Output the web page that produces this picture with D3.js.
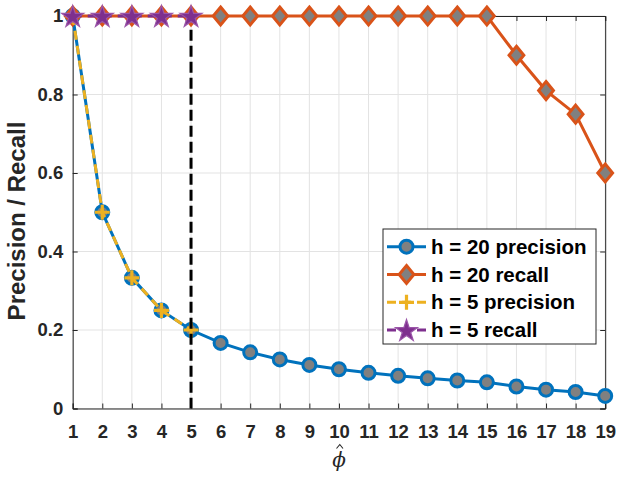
<!DOCTYPE html>
<html><head><meta charset="utf-8">
<script src="https://cdn.jsdelivr.net/npm/d3@7"></script>
<style>body{margin:0;background:#fff}svg{display:block}</style>
</head><body>
<script>
const xs = [1,2,3,4,5,6,7,8,9,10,11,12,13,14,15,16,17,18,19];
const precision20 = [1,0.5,0.333,0.25,0.2,0.167,0.143,0.125,0.111,0.1,0.0909,0.0833,0.0769,0.0714,0.0667,0.056,0.048,0.042,0.032];
const recall20 = [1,1,1,1,1,1,1,1,1,1,1,1,1,1,1,0.9,0.81,0.75,0.6];
const xs5 = [1,2,3,4,5];
const precision5 = [1,0.5,0.333,0.25,0.2];
const recall5 = [1,1,1,1,1];
const yTicks = [0,0.2,0.4,0.6,0.8,1];
const yTickLabels = ["0","0.2","0.4","0.6","0.8","1"];
const legendLabels = ["h = 20 precision","h = 20 recall","h = 5 precision","h = 5 recall"];
const cutoff = 5;

const W=622,H=477;
const L=72.7,R=605.2,T=16,B=408.5;
const svg=d3.select("body").append("svg").attr("width",W).attr("height",H);
const x=d3.scaleLinear().domain([1,19]).range([L,R]);
const y=d3.scaleLinear().domain([0,1]).range([B,T]);
const font="'Liberation Sans', Arial, Helvetica, sans-serif";
const tc="#262626";

// grid
const g=svg.append("g");
g.selectAll(".gx").data(xs).enter().append("line")
 .attr("x1",d=>x(d)).attr("x2",d=>x(d)).attr("y1",T).attr("y2",B)
 .attr("stroke","#e3e3e3").attr("stroke-width",1);
g.selectAll(".gy").data(yTicks).enter().append("line")
 .attr("y1",d=>y(d)).attr("y2",d=>y(d)).attr("x1",L).attr("x2",R)
 .attr("stroke","#e3e3e3").attr("stroke-width",1);

// axes
const xAxis=d3.axisBottom(x).tickValues(xs).tickSize(-5).tickPadding(16).tickFormat(d3.format("d"));
const yAxis=d3.axisLeft(y).tickValues(yTicks).tickSize(-5).tickPadding(9.5).tickFormat((d,i)=>yTickLabels[i]);
const xa=svg.append("g").attr("transform",`translate(0,${B})`).call(xAxis);
const ya=svg.append("g").attr("transform",`translate(${L},0)`).call(yAxis);
const xt=svg.append("g").attr("transform",`translate(0,${T})`).call(d3.axisTop(x).tickValues(xs).tickSize(-5).tickFormat(""));
const yr=svg.append("g").attr("transform",`translate(${R},0)`).call(d3.axisRight(y).tickValues(yTicks).tickSize(-5).tickFormat(""));
[xa,ya,xt,yr].forEach(a=>{
  a.select(".domain").attr("stroke",tc).attr("stroke-width",1);
  a.selectAll(".tick line").attr("stroke",tc);
  a.selectAll("text").attr("fill",tc).attr("font-family",font).attr("font-weight","bold").attr("font-size",18.5);
});

// labels
svg.append("text").attr("transform",`translate(25,221) rotate(-90)`)
 .attr("text-anchor","middle").attr("font-family",font).attr("font-weight","bold")
 .attr("font-size",24).attr("fill",tc).text("Precision / Recall");
svg.append("text").attr("x",339).attr("y",467).attr("text-anchor","middle")
 .attr("font-family","'DejaVu Serif', serif").attr("font-style","italic").attr("font-size",20).attr("fill",tc).text("\u03D5");
// hat accent over the x label
svg.append("path").attr("d","M336.5,448.5L339.8,444.5L343,448.5").attr("fill","none").attr("stroke",tc).attr("stroke-width",1.1);

const blue="#0072BD",orange="#D95319",yellow="#EDB120",purple="#7E2F8E",gray="#808080";
const line=d3.line().x(d=>x(d[0])).y(d=>y(d[1]));
const p20=xs.map((d,i)=>[d,precision20[i]]);
const r20=xs.map((d,i)=>[d,recall20[i]]);
const p5=xs5.map((d,i)=>[d,precision5[i]]);
const r5=xs5.map((d,i)=>[d,recall5[i]]);
const diamondPath="M0,-9L7.4,0L0,9L-7.4,0Z";
const plusPath="M-7.5,0H7.5M0,-7.5V7.5";
const star=d3.symbol().type(d3.symbolStar).size(150);

const plot=svg.append("g");
// h=20 precision
plot.append("path").attr("d",line(p20)).attr("fill","none").attr("stroke",blue).attr("stroke-width",3);
plot.selectAll(".c").data(p20).enter().append("circle").attr("cx",d=>x(d[0])).attr("cy",d=>y(d[1]))
 .attr("r",6.5).attr("fill",gray).attr("stroke",blue).attr("stroke-width",3);
// h=20 recall
plot.append("path").attr("d",line(r20)).attr("fill","none").attr("stroke",orange).attr("stroke-width",3);
plot.selectAll(".dm").data(r20).enter().append("path").attr("d",diamondPath)
 .attr("transform",d=>`translate(${x(d[0])},${y(d[1])})`)
 .attr("fill",gray).attr("stroke",orange).attr("stroke-width",3).attr("stroke-linejoin","miter");
// h=5 precision
plot.append("path").attr("d",line(p5)).attr("fill","none").attr("stroke",yellow).attr("stroke-width",3).attr("stroke-dasharray","9,6");
plot.selectAll(".pl").data(p5).enter().append("path")
 .attr("d",plusPath)
 .attr("transform",d=>`translate(${x(d[0])},${y(d[1])})`)
 .attr("stroke",yellow).attr("stroke-width",3.2).attr("fill","none");
// cutoff line
plot.append("line").attr("x1",x(cutoff)).attr("x2",x(cutoff)).attr("y1",y(0.965)).attr("y2",B)
 .attr("stroke","#000").attr("stroke-width",3).attr("stroke-dasharray","11,5");
// h=5 recall
plot.append("path").attr("d",line(r5)).attr("fill","none").attr("stroke",purple).attr("stroke-width",3).attr("stroke-dasharray","9,6");
plot.selectAll(".st").data(r5).enter().append("path").attr("d",star)
 .attr("transform",d=>`translate(${x(d[0])},${y(d[1])+1})`)
 .attr("fill",purple).attr("stroke","#9a55a8").attr("stroke-width",1.2);

// legend
const lg=svg.append("g");
const lx=383,ly=229,lw=213,lh=115;
lg.append("rect").attr("x",lx).attr("y",ly).attr("width",lw).attr("height",lh).attr("fill","#fff").attr("stroke","#262626").attr("stroke-width",1);
const rowH=27.8;
const colors=[blue,orange,yellow,purple];
legendLabels.forEach((t,i)=>{
  const cy=ly+17.7+i*rowH;
  const sx1=lx+4,sx2=lx+43,mx=(sx1+sx2)/2;
  const it=lg.append("g");
  it.append("line").attr("x1",sx1).attr("x2",sx2).attr("y1",cy).attr("y2",cy).attr("stroke",colors[i]).attr("stroke-width",3)
   .attr("stroke-dasharray",i>=2?"9,6":null);
  if(i===0) it.append("circle").attr("cx",mx).attr("cy",cy).attr("r",6.5).attr("fill",gray).attr("stroke",blue).attr("stroke-width",3);
  if(i===1) it.append("path").attr("d",diamondPath).attr("transform",`translate(${mx},${cy})`).attr("fill",gray).attr("stroke",orange).attr("stroke-width",3);
  if(i===2) it.append("path").attr("d",plusPath).attr("transform",`translate(${mx},${cy})`).attr("stroke",yellow).attr("stroke-width",3.2);
  if(i===3) it.append("path").attr("d",star).attr("transform",`translate(${mx},${cy+1})`).attr("fill",purple).attr("stroke","#9a55a8").attr("stroke-width",1.2);
  it.append("text").attr("x",lx+48).attr("y",cy+7).attr("font-family",font).attr("font-weight","bold").attr("font-size",20.5).attr("fill","#000").text(t);
});
</script>
</body></html>
